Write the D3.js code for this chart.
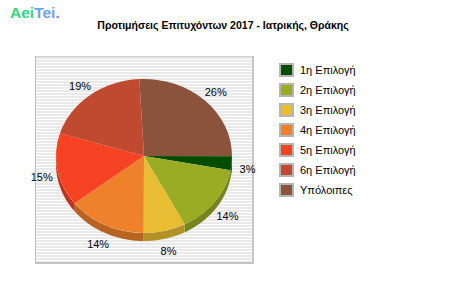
<!DOCTYPE html>
<html><head><meta charset="utf-8">
<script src="https://cdn.jsdelivr.net/npm/d3@7"></script>
<style>body{margin:0;background:#fff}svg{display:block}</style>
</head><body>
<svg id="c" width="450" height="300"></svg>
<script>
const title = "Προτιμήσεις Επιτυχόντων 2017 - Ιατρικής, Θράκης";
const categories = ["1η Επιλογή","2η Επιλογή","3η Επιλογή","4η Επιλογή","5η Επιλογή","6η Επιλογή","Υπόλοιπες"];
const values = [2.9, 14.4, 7.7, 14.4, 15.3, 19.4, 25.9];
const colors = ["#004d00","#99ac24","#e8bd32","#f0812c","#f54222","#c04a30","#8b533c"];
const pieOrder = [6, 0, 1, 2, 3, 4, 5];

const svg = d3.select("#c");

// logo
const logo = svg.append("text").attr("x", 10).attr("y", 18)
  .attr("font-family", "Liberation Sans, Arial, sans-serif").attr("font-weight", "bold").attr("font-size", 15.5);
logo.append("tspan").attr("fill", "#2fd680").text("Aei");
logo.append("tspan").attr("fill", "#6aa2ea").text("Tei");
logo.append("tspan").attr("fill", "#9a70e0").text(".");

// title
svg.append("text").attr("x", 223).attr("y", 29).attr("text-anchor", "middle")
  .attr("font-family", "Liberation Sans, Arial, sans-serif").attr("font-weight", "bold")
  .attr("font-size", 10.5).attr("fill", "#000").text(title);

// plot background with stripes
const defs = svg.append("defs");
const pat = defs.append("pattern").attr("id", "stripes").attr("patternUnits", "userSpaceOnUse")
  .attr("width", 4).attr("height", 3).attr("y", 57);
pat.append("rect").attr("width", 4).attr("height", 3).attr("fill", "#ffffff");
pat.append("rect").attr("width", 4).attr("height", 2).attr("fill", "#e9e9e9");

const px0 = 35, py0 = 56, px1 = 254, py1 = 264;
svg.append("rect").attr("x", px0).attr("y", py0).attr("width", px1 - px0).attr("height", py1 - py0).attr("fill", "url(#stripes)");
svg.append("rect").attr("x", px0).attr("y", py0).attr("width", px1 - px0).attr("height", 1).attr("fill", "#cfcfcf");
svg.append("rect").attr("x", px0).attr("y", py0).attr("width", 1).attr("height", py1 - py0).attr("fill", "#bdbdbd");
svg.append("rect").attr("x", px1 - 2).attr("y", py0).attr("width", 2).attr("height", py1 - py0).attr("fill", "#c4c4c4");
svg.append("rect").attr("x", px0).attr("y", py1 - 2).attr("width", px1 - px0).attr("height", 2).attr("fill", "#c4c4c4");

// pie
const cx = 144, cy = 156, rx = 88, ry = 77, depth = 8;
const pie = d3.pie().sort(null).value(i => values[i])
  .startAngle(-3 * Math.PI / 180).endAngle(2 * Math.PI - 3 * Math.PI / 180);
const arcs = pie(pieOrder);

const ex = (t, r) => cx + r * Math.sin(t);
const ey = (t, r) => cy - r * Math.cos(t);
const line = d3.line();

// sides (front half only)
const gSide = svg.append("g");
arcs.forEach(a => {
  const s = Math.max(a.startAngle, Math.PI / 2), e = Math.min(a.endAngle, 3 * Math.PI / 2);
  if (s >= e) return;
  const n = 40, pts = [];
  for (let k = 0; k <= n; k++) { const t = s + (e - s) * k / n; pts.push([ex(t, rx), ey(t, ry)]); }
  for (let k = n; k >= 0; k--) { const t = s + (e - s) * k / n; pts.push([ex(t, rx), ey(t, ry) + depth]); }
  gSide.append("path").attr("d", line(pts) + "Z")
    .attr("fill", d3.color(colors[a.data]).darker(0.75).formatHex());
});

// top faces
const arc = d3.arc().innerRadius(0).outerRadius(rx);
svg.append("g").attr("transform", `translate(${cx},${cy}) scale(1,${ry / rx})`)
  .selectAll("path").data(arcs).join("path")
  .attr("d", arc).attr("fill", d => colors[d.data]);

// labels
const total = d3.sum(values);
svg.append("g").selectAll("text").data(arcs).join("text")
  .attr("x", d => ex((d.startAngle + d.endAngle) / 2, rx + 16))
  .attr("y", d => ey((d.startAngle + d.endAngle) / 2, ry + 17) + 8)
  .attr("text-anchor", "middle")
  .attr("font-family", "Liberation Sans, Arial, sans-serif").attr("font-size", 11).attr("fill", "#000")
  .text(d => Math.round(values[d.data] / total * 100) + "%");

// legend
const lg = svg.append("g").selectAll("g").data(categories).join("g")
  .attr("transform", (d, i) => `translate(279,${63 + i * 20})`);
lg.append("rect").attr("width", 15).attr("height", 14).attr("fill", "#b4b4b4");
lg.append("rect").attr("x", 2).attr("y", 2).attr("width", 11).attr("height", 10).attr("fill", (d, i) => colors[i]);
lg.append("text").attr("x", 21).attr("y", 11)
  .attr("font-family", "Liberation Sans, Arial, sans-serif").attr("font-size", 11).attr("fill", "#000")
  .text(d => d);
</script>
</body></html>
